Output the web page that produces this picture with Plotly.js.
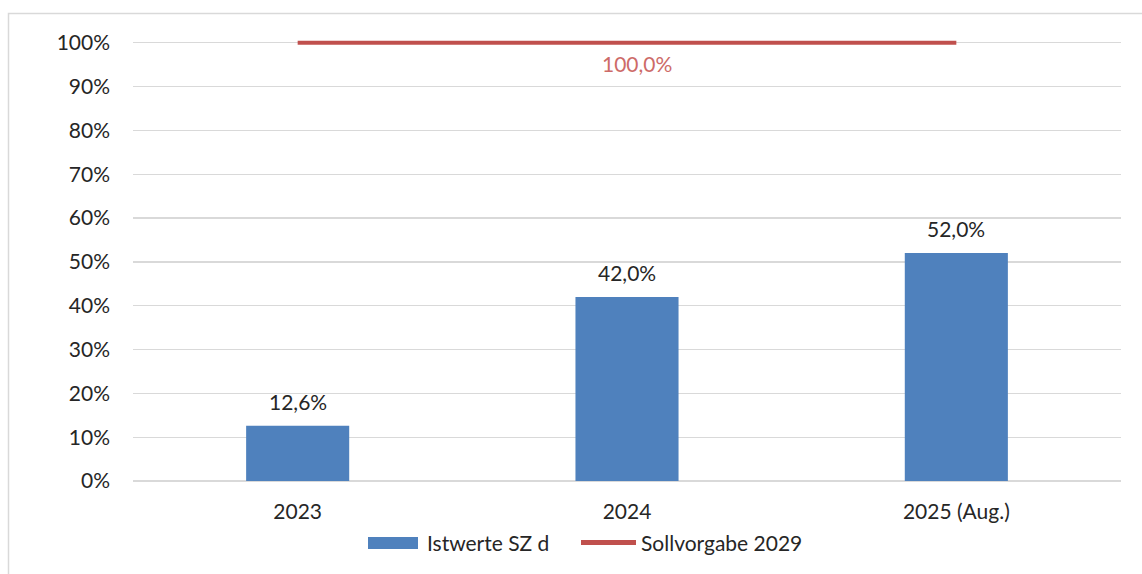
<!DOCTYPE html>
<html>
<head>
<meta charset="utf-8">
<script src="https://cdn.plot.ly/plotly-3.0.1.min.js"></script>
<style>html,body{margin:0;padding:0;background:#fff;}#chart{width:1142px;height:574px;}</style>
</head>
<body>
<div id="chart"></div>
<script>
var categories = ['2023', '2024', '2025 (Aug.)'];
var istwerte = [12.6, 42.0, 52.0];
var sollvorgabe = [100, 100, 100];
var seriesNames = ['Istwerte SZ d', 'Sollvorgabe 2029'];
var yTickVals = [0, 10, 20, 30, 40, 50, 60, 70, 80, 90, 100];
var yTickText = ['0%', '10%', '20%', '30%', '40%', '50%', '60%', '70%', '80%', '90%', '100%'];

var W = 1142, H = 574;
var M = {l: 133, r: 21, t: 34, b: 93};
var PW = W - M.l - M.r, PH = H - M.t - M.b;
function px(x) { return (x - M.l) / PW; }
function py(y) { return (H - M.b - y) / PH; }
function fmt(v) { return v.toFixed(1).replace('.', ',') + '%'; }

var FONT = 'Lato, "Open Sans", sans-serif';
var FS = 21;
var TXT = '#262626';
var BLUE = '#4F81BD';
var RED = '#C0504D';

var traces = [
  {
    type: 'bar', name: seriesNames[0], x: categories, y: istwerte,
    marker: {color: BLUE}, hoverinfo: 'x+y', showlegend: false
  },
  {
    type: 'scatter', mode: 'lines', name: seriesNames[1], x: categories, y: sollvorgabe,
    line: {color: RED, width: 4}, showlegend: false
  }
];

var annotations = istwerte.map(function (v, i) {
  return {
    x: i, y: v, xref: 'x', yref: 'y', text: fmt(v),
    showarrow: false, yanchor: 'bottom', yshift: 10,
    font: {family: FONT, size: FS, color: TXT}
  };
});
annotations.push({
  x: 1, y: sollvorgabe[1], xref: 'x', yref: 'y', text: fmt(sollvorgabe[1]),
  showarrow: false, yanchor: 'top', yshift: -6, xshift: 10,
  font: {family: FONT, size: FS, color: '#CD6B68'}
});
// legend texts
annotations.push({
  x: px(425), y: py(542), xref: 'paper', yref: 'paper', text: seriesNames[0],
  showarrow: false, xanchor: 'left', yanchor: 'middle',
  font: {family: FONT, size: FS, color: TXT}
});
annotations.push({
  x: px(639), y: py(542), xref: 'paper', yref: 'paper', text: seriesNames[1],
  showarrow: false, xanchor: 'left', yanchor: 'middle',
  font: {family: FONT, size: FS, color: TXT}
});

var shapes = [
  {type: 'rect', xref: 'paper', yref: 'paper', x0: px(8.5), x1: px(1160), y0: py(590), y1: py(13.5),
   line: {color: '#D9D9D9', width: 1.5}, fillcolor: 'rgba(0,0,0,0)', layer: 'below'},
  {type: 'rect', xref: 'paper', yref: 'paper', x0: px(368), x1: px(418), y0: py(549), y1: py(537),
   line: {width: 0}, fillcolor: BLUE},
  {type: 'line', xref: 'paper', yref: 'paper', x0: px(581), x1: px(636), y0: py(542.5), y1: py(542.5),
   line: {color: RED, width: 5}}
];

var layout = {
  width: W, height: H,
  margin: M,
  paper_bgcolor: '#ffffff', plot_bgcolor: '#ffffff',
  font: {family: FONT, size: FS, color: TXT},
  showlegend: false,
  bargap: 0.687,
  xaxis: {
    type: 'category', categoryorder: 'array', categoryarray: categories,
    range: [-0.5, 2.5], showgrid: false, zeroline: false, showline: false,
    ticks: '', ticklabelstandoff: 16,
    tickfont: {family: FONT, size: FS, color: TXT}
  },
  yaxis: {
    range: [0, 102], tickmode: 'array', tickvals: yTickVals, ticktext: yTickText,
    showgrid: true, gridcolor: '#D9D9D9', gridwidth: 1.3,
    zeroline: true, zerolinecolor: '#D9D9D9', zerolinewidth: 1.3,
    showline: false, ticks: '', ticklabelstandoff: 22,
    tickfont: {family: FONT, size: FS, color: TXT}
  },
  annotations: annotations,
  shapes: shapes
};

Plotly.newPlot('chart', traces, layout, {displayModeBar: false, staticPlot: true});
</script>
</body>
</html>
